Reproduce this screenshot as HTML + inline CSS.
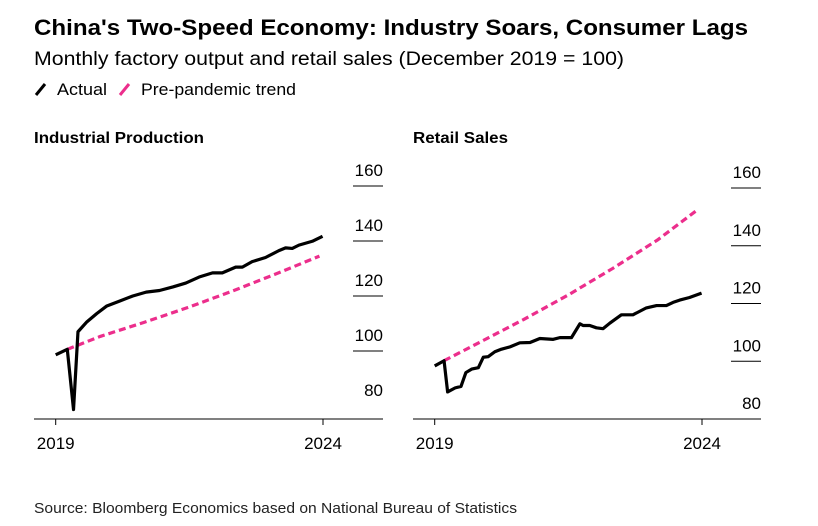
<!DOCTYPE html>
<html><head><meta charset="utf-8"><style>
body{margin:0;background:#fff;}
svg{display:block;font-family:"Liberation Sans",Arial,sans-serif;}
</style></head><body>
<svg id="c" width="818" height="526" viewBox="0 0 818 526">
<text x="34" y="35" font-size="22.5" font-weight="bold" textLength="714" lengthAdjust="spacingAndGlyphs">China's Two-Speed Economy: Industry Soars, Consumer Lags</text>
<text x="34" y="65" font-size="19" textLength="590" lengthAdjust="spacingAndGlyphs">Monthly factory output and retail sales (December 2019 = 100)</text>
<g>
<line x1="36" y1="95" x2="45" y2="84" stroke="#000" stroke-width="3"/>
<text x="57" y="95" font-size="17" textLength="50" lengthAdjust="spacingAndGlyphs">Actual</text>
<line x1="120" y1="95" x2="129" y2="84" stroke="#ec2e8c" stroke-width="3"/>
<text x="141" y="95" font-size="17" textLength="155" lengthAdjust="spacingAndGlyphs">Pre-pandemic trend</text>
</g>
<text x="34" y="143" font-size="16" font-weight="bold" textLength="170" lengthAdjust="spacingAndGlyphs">Industrial Production</text>
<text x="413" y="143" font-size="16" font-weight="bold" textLength="95" lengthAdjust="spacingAndGlyphs">Retail Sales</text>
<text x="34" y="513" font-size="15" fill="#222" textLength="483" lengthAdjust="spacingAndGlyphs">Source: Bloomberg Economics based on National Bureau of Statistics</text>
</svg>
<script>
const yTicks=[100,120,140,160];
const yTickLabels=['80','100','120','140','160'];
const xTickLabels=['2019','2024'];
const xTickMonths=[0,60];
const ipMonths=[0,2.6,4,5,7,9.2,11.4,14.4,17.3,20.3,23.3,26.3,29.2,32.2,35.2,37.4,40.4,41.9,44.1,47.1,50.1,51.6,53.1,54.6,57.6,59.9];
const ipValues=[98.6,100.6,78.7,107,110.6,113.6,116.3,118.2,120,121.4,122,123.3,124.7,126.9,128.4,128.4,130.5,130.5,132.5,134,136.5,137.5,137.3,138.5,139.9,141.7];
const ipTrendMonths=[2.6,10,20,30,40,50,59.2];
const ipTrendValues=[100.6,105.3,110.5,116,122,128.4,134.5];
const rsMonths=[0,2.1,2.9,4.6,5.9,7,8.3,9.8,10.9,12,13.5,15,16.9,19.1,21.4,23.6,26.6,28.1,30.7,32.6,33.3,34.8,36.3,37.8,39.3,41.9,44.5,47.5,49.8,52,53.5,55,57.2,59.9];
const rsValues=[98.4,100.2,89.4,90.8,91.3,96.1,97.3,97.8,101.4,101.6,103.3,104.2,105,106.4,106.5,107.9,107.6,108.2,108.2,113,112.4,112.4,111.6,111.3,113.2,116.1,116.1,118.5,119.3,119.3,120.4,121.2,122.1,123.6];
const rsTrendMonths=[2.1,10,20,30,40,50,59.1];
const rsTrendValues=[100.2,106.5,114.5,123,132.2,142,152.6];

const svg=document.getElementById('c');
const NS='http://www.w3.org/2000/svg';
function mk(tag,attrs){const e=document.createElementNS(NS,tag);for(const k in attrs)e.setAttribute(k,attrs[k]);svg.appendChild(e);return e;}

function panel(p){
  const xs=m=>p.x0+(m-0)/(60-0)*(p.x1-p.x0);
  const ys=v=>p.y100-(v-100)*p.pxPerUnit;
  const ax=mk('line',{x1:p.axL,y1:p.axY,x2:p.axR,y2:p.axY,stroke:'#000','stroke-width':1});
  
  
  yTicks.forEach(t=>{
    const g=mk('line',{x1:p.axR-30,y1:ys(t),x2:p.axR,y2:ys(t),stroke:'#000','stroke-width':1});
    
    
  });
  const labVals=[80].concat(yTicks);
  labVals.forEach((t,i)=>{
    const tx=mk('text',{x:p.axR,y:ys(t)-10,'font-size':17,'text-anchor':'end'});
    tx.textContent=yTickLabels[i];
    
    
  });
  xTickMonths.forEach((m,i)=>{
    const tk=mk('line',{x1:xs(m),y1:p.axY,x2:xs(m),y2:p.axY+6,stroke:'#000','stroke-width':1});
    
    
    const tx=mk('text',{x:xs(m),y:p.axY+30,'font-size':17,'text-anchor':'middle'});
    tx.textContent=xTickLabels[i];
    
    
  });
  const tr=mk('polyline',{points:p.tm.map((m,i)=>xs(m)+','+ys(p.tv[i])).join(' '),fill:'none',stroke:'#ec2e8c','stroke-width':3.2,'stroke-dasharray':'7,4'});
  
  
  const ac=mk('polyline',{points:p.am.map((m,i)=>xs(m)+','+ys(p.av[i])).join(' '),fill:'none',stroke:'#000','stroke-width':3.2,'stroke-linejoin':'round'});
  
  
}
panel({id:'industrial',x0:55.7,x1:323,y100:351,pxPerUnit:2.75,axL:34,axR:383,axY:419,am:ipMonths,av:ipValues,tm:ipTrendMonths,tv:ipTrendValues});
panel({id:'retail',x0:434.7,x1:702,y100:361.3,pxPerUnit:2.8875,axL:413,axR:761,axY:419,am:rsMonths,av:rsValues,tm:rsTrendMonths,tv:rsTrendValues});
</script>
</body></html>
